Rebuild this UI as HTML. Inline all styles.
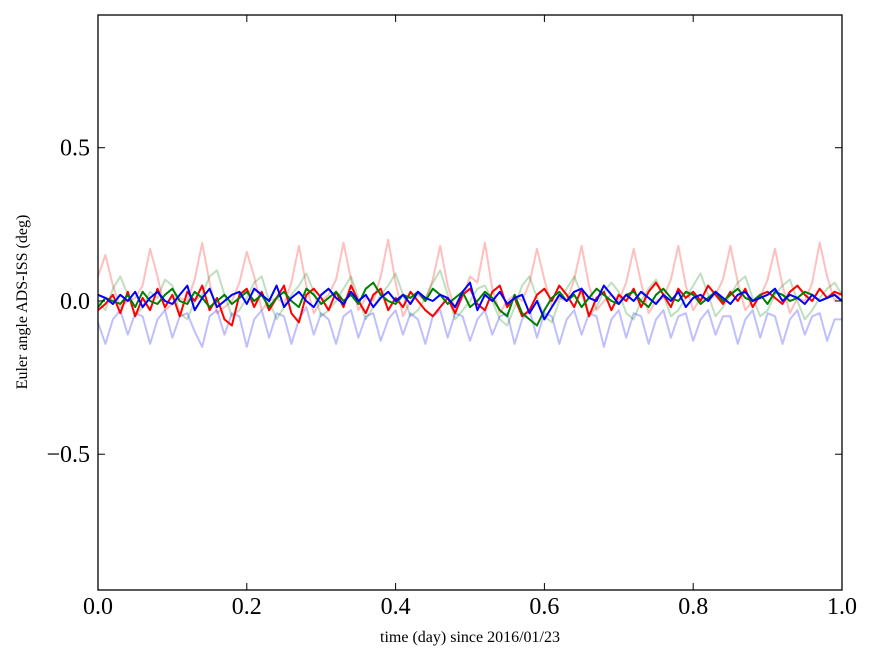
<!DOCTYPE html>
<html><head><meta charset="utf-8">
<style>
body{margin:0;background:#fff;}
svg text{font-family:"Liberation Serif",serif;fill:#000;}
</style></head>
<body>
<svg id="chart" width="875" height="662" xmlns="http://www.w3.org/2000/svg">
<g id="series"></g>
<rect x="98" y="15" width="744" height="575" fill="none" stroke="#000" stroke-width="1.3"/>
<g id="ticks"></g>
<text x="470" y="642" font-size="16" text-anchor="middle">time (day) since 2016/01/23</text>
<text transform="translate(27,302) rotate(-90)" font-size="16" text-anchor="middle">Euler angle ADS-ISS (deg)</text>
</svg>
<script>
const xTicks=[0,0.2,0.4,0.6,0.8,1.0];
const xTickLabels=["0.0","0.2","0.4","0.6","0.8","1.0"];
const yTicks=[0.5,0,-0.5];
const yTickLabels=["0.5","0.0","\u22120.5"];
const lightRed=[0.08,0.15,0.05,-0.02,0.0,0.01,0.05,0.17,0.08,-0.03,-0.01,0.01,0.0,0.07,0.19,0.06,-0.04,-0.02,0.0,0.06,0.16,0.08,-0.03,0.0,0.01,-0.01,0.06,0.18,0.05,-0.04,0.0,0.02,0.07,0.19,0.07,-0.03,0.01,0.0,0.08,0.2,0.06,-0.05,0.0,0.02,0.0,0.07,0.18,0.05,-0.03,0.01,0.08,0.06,0.19,0.04,-0.04,0.0,0.02,0.0,0.06,0.17,0.07,-0.02,0.01,0.0,0.07,0.18,0.05,-0.03,0.0,0.02,0.0,0.06,0.17,0.06,-0.04,0.0,0.01,0.07,0.18,0.05,-0.03,0.01,0.0,0.02,0.07,0.18,0.06,-0.03,0.0,0.01,0.07,0.17,0.05,-0.04,0.01,0.0,0.06,0.19,0.08,0.0,0.03];
const lightGreen=[0.0,-0.03,0.04,0.08,0.02,-0.05,-0.02,0.03,0.01,0.07,0.05,-0.04,-0.06,0.0,0.02,0.08,0.1,0.02,-0.05,-0.03,0.01,0.06,0.08,0.0,-0.06,-0.02,0.02,0.05,0.09,0.03,-0.05,-0.03,0.0,0.04,0.08,0.01,-0.06,-0.02,0.02,0.05,0.09,0.02,-0.05,-0.03,0.01,0.06,0.1,0.02,-0.06,-0.03,0.0,0.04,0.05,0.0,-0.06,-0.08,-0.02,0.05,0.08,0.01,-0.05,-0.07,0.0,0.04,0.08,0.02,-0.05,-0.02,0.03,0.06,0.03,-0.04,-0.06,0.0,0.04,0.07,0.02,-0.05,-0.03,0.01,0.05,0.09,0.02,-0.05,-0.02,0.02,0.06,0.08,0.01,-0.05,-0.03,0.02,0.05,0.07,0.0,-0.06,-0.03,0.01,0.04,0.06,0.02];
const lightBlue=[-0.07,-0.14,-0.06,-0.03,-0.11,-0.04,-0.05,-0.14,-0.06,-0.03,-0.12,-0.05,-0.04,-0.1,-0.15,-0.05,-0.03,-0.11,-0.04,-0.05,-0.15,-0.06,-0.03,-0.12,-0.04,-0.05,-0.14,-0.06,-0.02,-0.11,-0.04,-0.06,-0.14,-0.05,-0.03,-0.12,-0.05,-0.04,-0.13,-0.06,-0.03,-0.11,-0.04,-0.06,-0.14,-0.05,-0.03,-0.12,-0.04,-0.05,-0.13,-0.06,-0.03,-0.11,-0.05,-0.04,-0.14,-0.06,-0.03,-0.12,-0.04,-0.05,-0.14,-0.06,-0.03,-0.11,-0.04,-0.05,-0.15,-0.06,-0.03,-0.12,-0.04,-0.05,-0.14,-0.06,-0.03,-0.12,-0.05,-0.04,-0.13,-0.06,-0.03,-0.11,-0.05,-0.05,-0.14,-0.06,-0.03,-0.12,-0.04,-0.05,-0.14,-0.06,-0.03,-0.11,-0.05,-0.04,-0.13,-0.06,-0.06];
const red=[-0.03,-0.01,0.02,-0.04,0.03,-0.05,0.01,-0.03,0.04,-0.02,0.02,-0.05,0.03,0.0,0.05,-0.03,0.01,-0.06,-0.08,0.02,0.04,-0.02,0.03,-0.03,0.01,0.05,-0.04,-0.07,0.02,0.04,0.01,-0.03,0.03,-0.02,0.05,0.0,-0.04,0.02,0.04,-0.03,0.01,-0.02,0.03,0.0,-0.03,-0.05,-0.02,0.01,-0.04,0.02,0.04,-0.01,-0.03,0.03,0.05,-0.02,0.01,-0.05,-0.03,0.02,0.04,0.0,0.05,0.02,-0.02,0.04,-0.05,0.01,0.03,-0.03,0.02,0.0,0.04,-0.02,0.03,0.06,0.02,-0.02,0.04,0.01,0.03,0.0,0.05,0.02,-0.01,0.03,0.0,0.04,-0.02,0.02,0.03,0.01,-0.01,0.03,0.05,0.02,0.0,0.04,0.01,0.03,0.02];
const green=[-0.02,0.01,0.0,-0.01,0.02,-0.02,0.03,0.0,-0.01,0.02,0.04,0.0,-0.01,0.03,0.01,-0.02,0.0,0.02,-0.01,0.01,0.03,0.0,0.02,-0.02,0.01,0.03,0.0,-0.02,0.04,0.02,-0.01,0.01,0.03,0.0,0.02,-0.01,0.04,0.06,0.02,0.0,-0.01,0.02,0.01,0.03,0.0,0.04,0.02,-0.01,0.01,0.03,-0.02,0.0,0.03,0.01,-0.03,-0.05,0.02,-0.04,-0.06,-0.08,-0.03,0.01,0.03,0.0,0.02,-0.02,0.01,0.04,0.02,0.0,-0.01,0.02,0.03,0.0,-0.02,0.02,0.04,0.01,0.0,0.03,0.02,-0.01,0.01,0.03,0.0,0.02,0.04,0.01,0.0,0.02,-0.01,0.03,0.02,0.0,0.01,0.03,0.02,0.0,0.01,0.02,0.0];
const blue=[0.02,0.01,-0.01,0.02,0.0,0.03,-0.02,0.01,0.03,0.0,-0.01,0.02,0.05,-0.03,0.01,0.04,-0.02,0.0,0.02,0.03,-0.01,0.04,0.02,0.0,0.05,-0.02,0.01,0.03,0.0,-0.02,0.02,0.04,0.01,-0.01,0.03,0.0,0.02,-0.02,0.01,0.03,0.0,0.02,-0.01,0.03,0.01,0.0,0.02,0.01,-0.02,0.03,0.06,-0.03,0.02,0.0,0.03,-0.01,0.01,0.02,-0.04,0.0,-0.06,-0.02,0.02,0.0,0.03,0.04,0.01,0.0,0.05,0.02,-0.01,0.02,0.0,0.03,0.01,-0.01,0.02,0.0,0.03,-0.02,0.01,0.02,0.0,0.03,0.01,-0.01,0.02,0.03,0.0,0.01,0.02,0.04,0.0,0.02,0.01,-0.01,0.02,0.0,0.01,0.02,0.0];
const X0=98,X1=842,Y0=15,Y1=590,yMin=-0.943,yMax=0.933;
const xs=v=>X0+(X1-X0)*v;
const ys=v=>Y1-(Y1-Y0)*(v-yMin)/(yMax-yMin);
const NS="http://www.w3.org/2000/svg";
const sg=document.getElementById('series');
function draw(data,color,op,name){
  const p=document.createElementNS(NS,'polyline');
  p.setAttribute('points',data.map((v,i)=>xs(i/(data.length-1)).toFixed(1)+','+ys(v).toFixed(1)).join(' '));
  p.setAttribute('fill','none');p.setAttribute('stroke',color);p.setAttribute('stroke-width','2');p.setAttribute('stroke-opacity',op);p.setAttribute('stroke-linejoin','round');
  
  
  sg.appendChild(p);
}
draw(lightRed,'#ff0000',0.25,'series-light-red');
draw(lightGreen,'#008000',0.25,'series-light-green');
draw(lightBlue,'#0000ff',0.25,'series-light-blue');
draw(red,'#ff0000',1,'series-red');
draw(green,'#008000',1,'series-green');
draw(blue,'#0000ff',1,'series-blue');
const tg=document.getElementById('ticks');
function el(tag,attrs,txt){const e=document.createElementNS(NS,tag);for(const k in attrs)e.setAttribute(k,attrs[k]);if(txt!==undefined)e.textContent=txt;tg.appendChild(e);return e;}
xTicks.forEach((v,i)=>{
  const x=xs(v);
  const a=el('line',{x1:x,x2:x,y1:Y1,y2:Y1-7,stroke:'#000'});
  const b=el('line',{x1:x,x2:x,y1:Y0,y2:Y0+7,stroke:'#000'});
  const t=el('text',{x:x,y:614,'font-size':24,'text-anchor':'middle'},xTickLabels[i]);
  
  
});
yTicks.forEach((v,i)=>{
  const y=ys(v);
  const a=el('line',{x1:X0,x2:X0+7,y1:y,y2:y,stroke:'#000'});
  const b=el('line',{x1:X1,x2:X1-7,y1:y,y2:y,stroke:'#000'});
  const t=el('text',{x:90,y:y+8,'font-size':24,'text-anchor':'end'},yTickLabels[i]);
  
  
});
</script>
</body></html>
